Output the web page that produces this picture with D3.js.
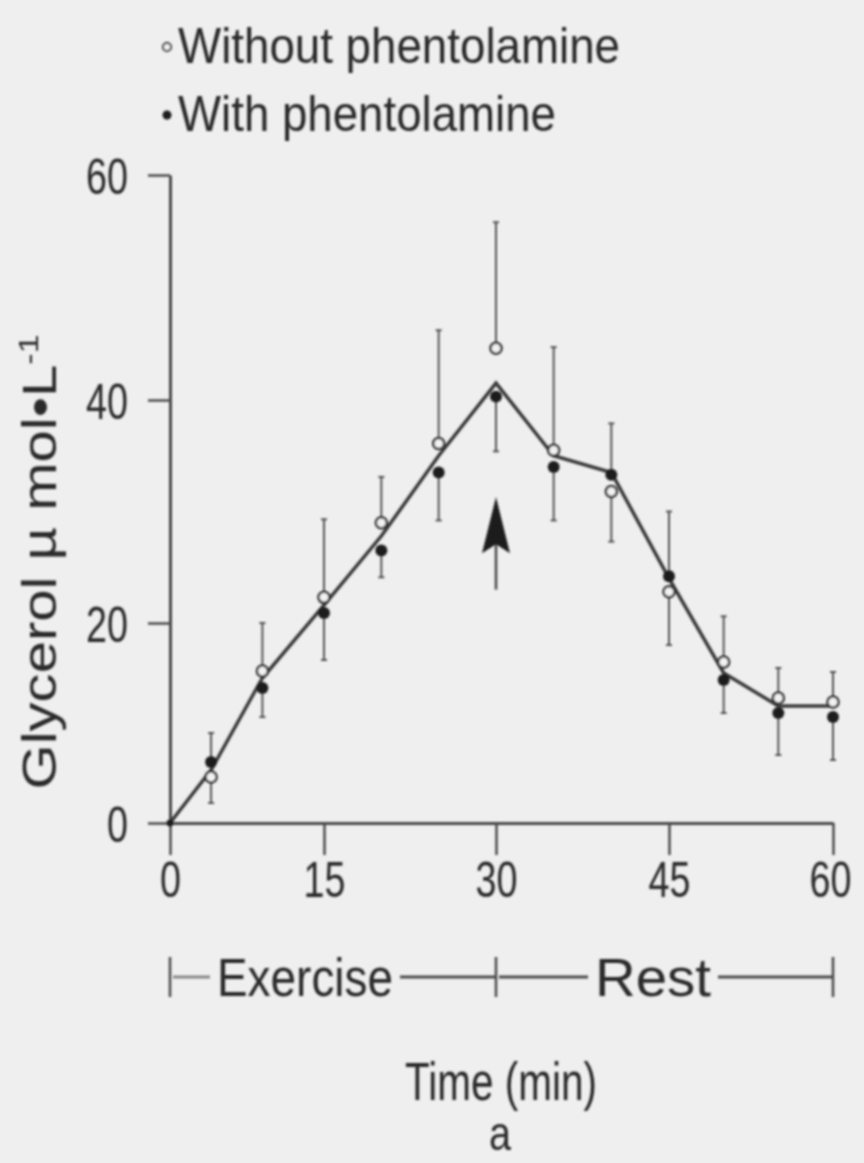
<!DOCTYPE html>
<html>
<head>
<meta charset="utf-8">
<script src="https://cdn.jsdelivr.net/npm/d3@7"></script>
<style>
    html, body { margin: 0; padding: 0; background: #efefef; }
    svg { display: block; }
    text { font-family: "Liberation Sans Narrow", "Liberation Sans", Arial, sans-serif; fill: #2a2a2a; }
</style>
</head>
<body>
<div id="chart"></div>
<script>
// Glycerol during exercise and rest, with and without phentolamine

var times = [0, 4, 9, 15, 20, 25, 30, 35, 40, 45, 50, 55, 60];
var withoutMean = [0, 4.6, 15.2, 22.3, 29.0, 36.1, 44.6, 35.5, 31.8, 22.8, 16.1, 12.5, 12.1];
var withoutErr  = [0, 2.6, 4.8, 7.0, 4.1, 10.1, 11.2, 9.2, 4.5, 5.0, 4.5, 3.0, 3.0];
var withMean    = [0, 6.1, 13.5, 20.9, 26.5, 33.5, 40.3, 34.0, 33.3, 24.2, 14.3, 11.0, 10.6];
var withErr     = [0, 2.9, 2.9, 4.6, 2.4, 4.3, 4.9, 4.8, 4.6, 5.8, 3.3, 4.2, 4.3];
var lineValues  = [0, 5.3, 14.5, 21.6, 27.8, 35.0, 41.5, 35.0, 33.5, 24.0, 15.0, 11.7, 11.7];

var xTicks = [0, 15, 30, 45, 60];
var yTicks = [0, 20, 40, 60];
var legendLabels = ["Without phentolamine", "With phentolamine"];
var phases = [{label: "Exercise", start: 0, end: 30}, {label: "Rest", start: 30, end: 60}];

(function () {
    "use strict";

    var width = 864, height = 1163;
    var ink = "#2a2a2a", axisInk = "#4a4a4a";

    // the scanned figure is a little stretched, so the scales are piecewise
    var x = d3.scaleLinear().domain(xTicks).range([170, 324, 496, 669, 833]);
    var y = d3.scaleLinear().domain(yTicks).range([823, 623, 400, 175]);

    var svg = d3.select("#chart").append("svg")
        .attr("width", width)
        .attr("height", height);

    svg.append("rect").attr("width", width).attr("height", height).attr("fill", "#efefef");

    // soft scan look
    svg.append("defs").append("filter").attr("id", "soft")
        .append("feGaussianBlur").attr("stdDeviation", 0.8);

    var g = svg.append("g").attr("filter", "url(#soft)");

    // axes
    var yAxis = g.append("g")
        .attr("transform", "translate(" + x(0) + ",0)")
        .call(d3.axisLeft(y).tickValues(yTicks).tickSize(22).tickSizeOuter(0).tickPadding(20));
    var xAxis = g.append("g")
        .attr("transform", "translate(0," + y(0) + ")")
        .call(d3.axisBottom(x).tickValues(xTicks).tickSize(32).tickSizeOuter(0).tickPadding(6));

    [yAxis, xAxis].forEach(function (ax) {
        ax.select(".domain").attr("stroke", axisInk).attr("stroke-width", 3);
        ax.selectAll(".tick line").attr("stroke", axisInk).attr("stroke-width", 2.5);
        // condensed digits, like the narrow face of the original
        ax.selectAll(".tick text")
            .attr("fill", ink)
            .attr("textLength", function (d) { return String(d).length * 21; })
            .attr("lengthAdjust", "spacingAndGlyphs")
            .style("font-size", "50px")
            .style("font-family", "'Liberation Sans Narrow', 'Liberation Sans', sans-serif");
    });
    yAxis.selectAll(".tick text").attr("dy", "0.36em");
    xAxis.selectAll(".tick text").attr("dy", "0.72em")
        .attr("dx", function (d) { return d === 60 ? -3 : 0; });

    // error bars, drawn away from the other series
    var i;
    var bars = [];
    for (i = 1; i < times.length; i += 1) {
        var up = withoutMean[i] >= withMean[i];
        bars.push({t: times[i], from: withoutMean[i], to: withoutMean[i] + (up ? withoutErr[i] : -withoutErr[i])});
        bars.push({t: times[i], from: withMean[i], to: withMean[i] + (up ? -withErr[i] : withErr[i])});
    }
    var barG = g.append("g").attr("stroke", "#555").attr("stroke-width", 2);
    barG.selectAll("line.bar").data(bars).enter().append("line")
        .attr("class", "bar")
        .attr("x1", function (d) { return x(d.t); })
        .attr("x2", function (d) { return x(d.t); })
        .attr("y1", function (d) { return y(d.from); })
        .attr("y2", function (d) { return y(d.to); });
    barG.selectAll("line.cap").data(bars).enter().append("line")
        .attr("class", "cap")
        .attr("x1", function (d) { return x(d.t) - 3; })
        .attr("x2", function (d) { return x(d.t) + 3; })
        .attr("y1", function (d) { return y(d.to); })
        .attr("y2", function (d) { return y(d.to); });

    // connecting line
    var line = d3.line()
        .x(function (d) { return x(d[0]); })
        .y(function (d) { return y(d[1]); });
    g.append("path")
        .datum(times.map(function (t, k) { return [t, lineValues[k]]; }))
        .attr("d", line)
        .attr("fill", "none")
        .attr("stroke", "#3a3a3a")
        .attr("stroke-width", 3.5)
        .attr("stroke-linejoin", "miter");

    // markers
    g.selectAll("circle.open").data(times.slice(1)).enter().append("circle")
        .attr("class", "open")
        .attr("cx", function (d) { return x(d); })
        .attr("cy", function (d, k) { return y(withoutMean[k + 1]); })
        .attr("r", 5.5)
        .attr("fill", "#f2f2f2")
        .attr("stroke", "#333")
        .attr("stroke-width", 2.5);
    g.selectAll("circle.filled").data(times).enter().append("circle")
        .attr("class", "filled")
        .attr("cx", function (d) { return x(d); })
        .attr("cy", function (d, k) { return y(withMean[k]); })
        .attr("r", function (d, k) { return k === 0 ? 3.5 : 6; })
        .attr("fill", "#1e1e1e");

    // arrow at the end of exercise
    var ax0 = x(30), tip = y(31.3), base = y(26.8), tail = y(23.0);
    g.append("line")
        .attr("x1", ax0).attr("x2", ax0)
        .attr("y1", base - 4).attr("y2", tail)
        .attr("stroke", "#444").attr("stroke-width", 2.5);
    g.append("path")
        .attr("d", "M" + ax0 + "," + tip +
            "L" + (ax0 + 14) + "," + (base + 6) +
            "L" + ax0 + "," + (base - 3) +
            "L" + (ax0 - 14) + "," + (base + 6) + "Z")
        .attr("fill", "#1e1e1e");

    // legend
    var legend = g.append("g");
    legend.append("circle").attr("cx", 167).attr("cy", 47).attr("r", 4)
        .attr("fill", "#f2f2f2").attr("stroke", "#333").attr("stroke-width", 2);
    legend.append("circle").attr("cx", 167).attr("cy", 115).attr("r", 4.5).attr("fill", "#1e1e1e");
    legend.append("text").attr("x", 178).attr("y", 63)
        .attr("textLength", 442).attr("lengthAdjust", "spacingAndGlyphs")
        .style("font-size", "50px").text(legendLabels[0]);
    legend.append("text").attr("x", 178).attr("y", 131)
        .attr("textLength", 378).attr("lengthAdjust", "spacingAndGlyphs")
        .style("font-size", "50px").text(legendLabels[1]);

    // y axis title
    g.append("text")
        .attr("transform", "translate(56,562) rotate(-90)")
        .attr("text-anchor", "middle")
        .attr("textLength", 455).attr("lengthAdjust", "spacingAndGlyphs")
        .style("font-size", "48px")
        .text("Glycerol\u00a0\u00b5\u00a0mol\u2022L")
        .append("tspan").attr("dy", -18).style("font-size", "28px").text("-1");

    // exercise / rest bracket
    var rowY = 977;
    var bracket = g.append("g");
    [0, 30, 60].forEach(function (t) {
        bracket.append("line")
            .attr("x1", x(t)).attr("x2", x(t))
            .attr("y1", rowY - 20).attr("y2", rowY + 20)
            .attr("stroke", axisInk).attr("stroke-width", 2.5);
    });
    var labelPos = {Exercise: 305, Rest: 653};
    var labelLen = {Exercise: 176, Rest: 116};
    phases.forEach(function (p) {
        var cx = labelPos[p.label];
        var half = labelLen[p.label] / 2;
        bracket.append("text")
            .attr("x", cx).attr("y", rowY + 19)
            .attr("text-anchor", "middle")
            .attr("textLength", labelLen[p.label]).attr("lengthAdjust", "spacingAndGlyphs")
            .style("font-size", "54px")
            .text(p.label);
        bracket.append("line")
            .attr("x1", x(p.start) + 3).attr("x2", cx - half - 7)
            .attr("y1", rowY).attr("y2", rowY)
            .attr("stroke", p.label === "Exercise" ? "#888" : axisInk).attr("stroke-width", 3);
        bracket.append("line")
            .attr("x1", cx + half + 7).attr("x2", x(p.end) - 1)
            .attr("y1", rowY).attr("y2", rowY)
            .attr("stroke", axisInk).attr("stroke-width", 3);
    });

    // x axis title and panel letter
    g.append("text")
        .attr("x", 501).attr("y", 1100)
        .attr("text-anchor", "middle")
        .attr("textLength", 192).attr("lengthAdjust", "spacingAndGlyphs")
        .style("font-size", "54px")
        .text("Time (min)");
    g.append("text")
        .attr("x", 500).attr("y", 1150)
        .attr("text-anchor", "middle")
        .attr("textLength", 22).attr("lengthAdjust", "spacingAndGlyphs")
        .style("font-size", "48px")
        .text("a");
}());
</script>
</body>
</html>
